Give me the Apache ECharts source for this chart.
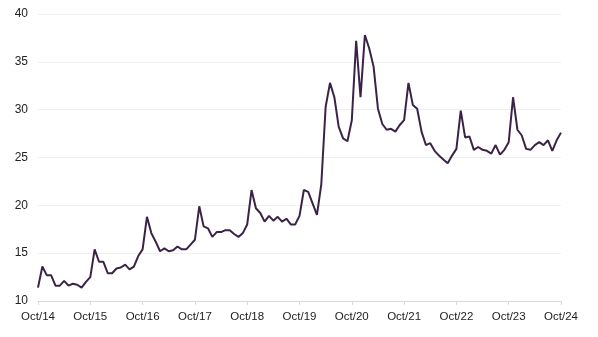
<!DOCTYPE html>
<html>
<head>
<meta charset="utf-8">
<script src="https://cdn.jsdelivr.net/npm/echarts@6/dist/echarts.min.js"></script>
<style>html,body{margin:0;padding:0;background:#fff;}#c{width:598px;height:337px;}</style>
</head>
<body>
<div id="c"></div>
<script>
const monthNames = ['Oct','Nov','Dec','Jan','Feb','Mar','Apr','May','Jun','Jul','Aug','Sep'];
const startYear = 14;
const yTicks = [10, 15, 20, 25, 30, 35, 40];
const values = [
  11.4, 13.6, 12.7, 12.7, 11.6, 11.6, 12.1, 11.6, 11.8, 11.7, 11.4, 12.0,
  12.5, 15.4, 14.1, 14.1, 12.9, 12.9, 13.4, 13.5, 13.8, 13.3, 13.6, 14.7,
  15.4, 18.8, 17.1, 16.2, 15.2, 15.5, 15.2, 15.3, 15.7, 15.4, 15.4, 15.9,
  16.4, 19.9, 17.8, 17.6, 16.7, 17.2, 17.2, 17.4, 17.4, 17.0, 16.7, 17.1,
  18.0, 21.6, 19.7, 19.2, 18.3, 18.9, 18.4, 18.8, 18.3, 18.6, 18.0, 18.0,
  18.9, 21.6, 21.4, 20.2, 19.0, 22.2, 30.3, 32.8, 31.3, 28.2, 27.0, 26.7,
  28.9, 37.2, 31.3, 37.8, 36.4, 34.5, 30.1, 28.5, 27.9, 28.0, 27.7, 28.4,
  28.9, 32.8, 30.5, 30.1, 27.7, 26.3, 26.5, 25.7, 25.2, 24.8, 24.4, 25.2,
  25.9, 29.9, 27.1, 27.2, 25.8, 26.1, 25.8, 25.7, 25.4, 26.3, 25.3, 25.8,
  26.6, 31.3, 27.9, 27.3, 25.9, 25.8, 26.3, 26.6, 26.3, 26.8, 25.7, 26.8,
  27.6
];
const categories = values.map((v, i) => {
  const m = i % 12;
  const yr = startYear + Math.floor(i / 12) + (m >= 3 ? 1 : 0);
  return monthNames[m] + '/' + String(yr).padStart(2, '0');
});

const chart = echarts.init(document.getElementById('c'), null, {renderer: 'canvas'});
chart.setOption({
  animation: false,
  backgroundColor: '#ffffff',
  grid: {left: 38, right: 37, top: 14, bottom: 36, containLabel: false},
  xAxis: {
    type: 'category',
    data: categories,
    boundaryGap: false,
    axisLine: {show: true, lineStyle: {color: '#d9d9d9', width: 1}},
    axisTick: {show: true, interval: 11, length: 4, lineStyle: {color: '#d9d9d9'}},
    axisLabel: {interval: 11, color: '#222', fontSize: 11.5, fontFamily: 'Liberation Sans, Arial, sans-serif', margin: 10, showMaxLabel: true},
    splitLine: {show: false}
  },
  yAxis: {
    type: 'value',
    min: yTicks[0],
    max: yTicks[yTicks.length - 1],
    interval: 5,
    axisLine: {show: false},
    axisTick: {show: false},
    axisLabel: {color: '#222', fontSize: 12, fontFamily: 'Liberation Sans, Arial, sans-serif', margin: 10},
    splitLine: {show: true, lineStyle: {color: '#efefef', width: 1}}
  },
  series: [{
    type: 'line',
    data: values,
    showSymbol: false,
    symbol: 'none',
    lineStyle: {color: '#3b2348', width: 2},
    itemStyle: {color: '#3b2348'}
  }]
});
</script>
</body>
</html>
